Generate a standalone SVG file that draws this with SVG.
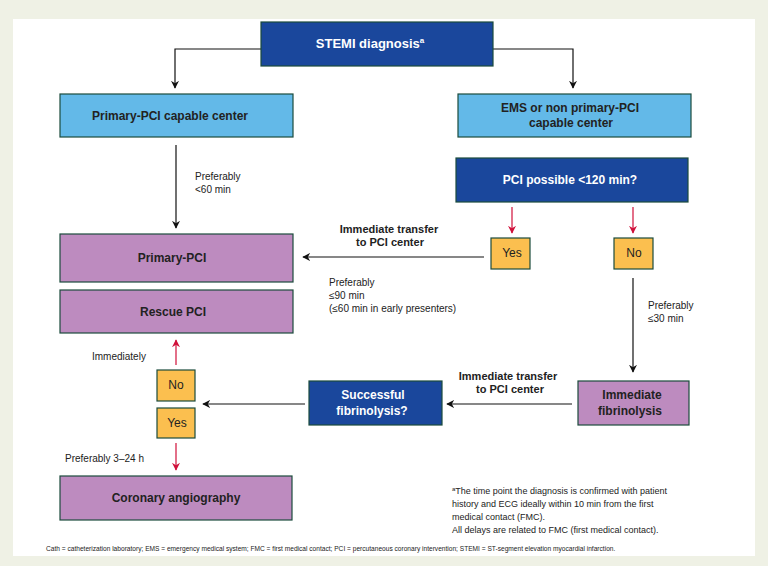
<svg xmlns="http://www.w3.org/2000/svg" width="768" height="566" viewBox="0 0 768 566">
<defs>
<marker id="ab" viewBox="0 0 10 10" refX="9" refY="5" markerWidth="8" markerHeight="10" markerUnits="userSpaceOnUse" orient="auto"><path d="M0,0 L10,5 L0,10 L3,5 Z" fill="#111"/></marker>
<marker id="ar" viewBox="0 0 10 10" refX="9" refY="5" markerWidth="8" markerHeight="10" markerUnits="userSpaceOnUse" orient="auto"><path d="M0,0 L10,5 L0,10 L3,5 Z" fill="#d0103a"/></marker>
</defs>
<style>
.db{fill:#1a479c;stroke:#1b4b3c;stroke-width:1.2}
.lb{fill:#63b9e8;stroke:#1b4b3c;stroke-width:1.2}
.pu{fill:#bd8bbf;stroke:#1b4b3c;stroke-width:1.2}
.ye{fill:#fbbf4f;stroke:#1b4b3c;stroke-width:1.2}
text{font-family:"Liberation Sans",Arial,sans-serif}
.w{fill:#fff;font-weight:bold;font-size:12px;text-anchor:middle}
.k{fill:#222;font-weight:bold;font-size:12px;text-anchor:middle}
.s{fill:#222;font-size:10px}
.sb{fill:#222;font-weight:bold;font-size:11px;text-anchor:middle}
.c{stroke:#111;stroke-width:1.2;fill:none}
.r{stroke:#d0103a;stroke-width:1.2;fill:none}
</style>
<rect width="768" height="566" fill="#eff1e5"/>
<rect x="13" y="19" width="742" height="537" fill="#fff"/>
<g id="connectors">
<path class="c" d="M261,49 H175 V88" marker-end="url(#ab)"/>
<path class="c" d="M493,49 H573 V88" marker-end="url(#ab)"/>
<path class="c" d="M176,145 V228" marker-end="url(#ab)"/>
<path class="r" d="M512,207 V233" marker-end="url(#ar)"/>
<path class="r" d="M633,207 V233" marker-end="url(#ar)"/>
<path class="c" d="M484,257 H303" marker-end="url(#ab)"/>
<path class="c" d="M633,278 V372" marker-end="url(#ab)"/>
<path class="c" d="M572,404 H447" marker-end="url(#ab)"/>
<path class="c" d="M305,404 H203" marker-end="url(#ab)"/>
<path class="r" d="M176,365 V340" marker-end="url(#ar)"/>
<path class="r" d="M176,443 V470" marker-end="url(#ar)"/>
<text class="s" x="195" y="180">Preferably</text>
<text class="s" x="195" y="193">&lt;60 min</text>
<text class="sb" x="389" y="233">Immediate transfer</text>
<text class="sb" x="390" y="246">to PCI center</text>
<text class="s" x="329" y="286">Preferably</text>
<text class="s" x="329" y="299">≤90 min</text>
<text class="s" x="329" y="312">(≤60 min in early presenters)</text>
<text class="s" x="648" y="309">Preferably</text>
<text class="s" x="648" y="322">≤30 min</text>
<text class="sb" x="508" y="380">Immediate transfer</text>
<text class="sb" x="510" y="393">to PCI center</text>
<text class="s" x="92" y="360">Immediately</text>
<text class="s" x="65" y="462">Preferably 3–24 h</text>
</g>
<g id="stemi"><rect class="db" x="261" y="22" width="232" height="44"/><text class="w" x="370" y="48" style="font-size:13px">STEMI diagnosis<tspan font-size="8" dy="-5">a</tspan></text></g>
<g id="ppcicenter"><rect class="lb" x="60" y="94" width="233" height="43"/><text class="k" x="170" y="120">Primary-PCI capable center</text></g>
<g id="ems"><rect class="lb" x="458" y="94" width="233" height="43"/><text class="k" x="570" y="112">EMS or non primary-PCI</text><text class="k" x="571" y="127">capable center</text></g>
<g id="pcipossible"><rect class="db" x="456" y="158" width="232" height="44"/><text class="w" x="570" y="184">PCI possible &lt;120 min?</text></g>
<g id="yes1"><rect class="ye" x="491" y="238" width="39" height="31"/><text class="k" x="512" y="257" style="font-weight:normal">Yes</text></g>
<g id="no1"><rect class="ye" x="614" y="238" width="39" height="31"/><text class="k" x="634" y="257" style="font-weight:normal">No</text></g>
<g id="ppci"><rect class="pu" x="60" y="234" width="233" height="48"/><text class="k" x="172" y="262">Primary-PCI</text></g>
<g id="rescue"><rect class="pu" x="60" y="290" width="233" height="43"/><text class="k" x="173" y="316">Rescue PCI</text></g>
<g id="no2"><rect class="ye" x="157" y="370" width="38" height="31"/><text class="k" x="176" y="389" style="font-weight:normal">No</text></g>
<g id="yes2"><rect class="ye" x="157" y="408" width="38" height="30"/><text class="k" x="177" y="427" style="font-weight:normal">Yes</text></g>
<g id="successful"><rect class="db" x="309" y="381" width="133" height="44"/><text class="w" x="373" y="399">Successful</text><text class="w" x="372" y="415">fibrinolysis?</text></g>
<g id="immfib"><rect class="pu" x="578" y="381" width="111" height="44"/><text class="k" x="632" y="399">Immediate</text><text class="k" x="630" y="415">fibrinolysis</text></g>
<g id="coronary"><rect class="pu" x="60" y="476" width="232" height="44"/><text class="k" x="176" y="502">Coronary angiography</text></g>
<g id="notes">
<text class="s" x="452" y="494" style="font-size:9px"><tspan font-size="6" dy="-3">a</tspan><tspan dy="3">The time point the diagnosis is confirmed with patient</tspan></text>
<text class="s" x="452" y="507" style="font-size:9px">history and ECG ideally within 10 min from the first</text>
<text class="s" x="452" y="520" style="font-size:9px">medical contact (FMC).</text>
<text class="s" x="452" y="533" style="font-size:9px">All delays are related to FMC (first medical contact).</text>
<text class="s" x="46" y="551" style="font-size:6.6px">Cath = catheterization laboratory;  EMS = emergency medical system;  FMC = first medical contact;  PCI = percutaneous coronary intervention;  STEMI = ST-segment elevation myocardial infarction.</text>
</g>
</svg>
